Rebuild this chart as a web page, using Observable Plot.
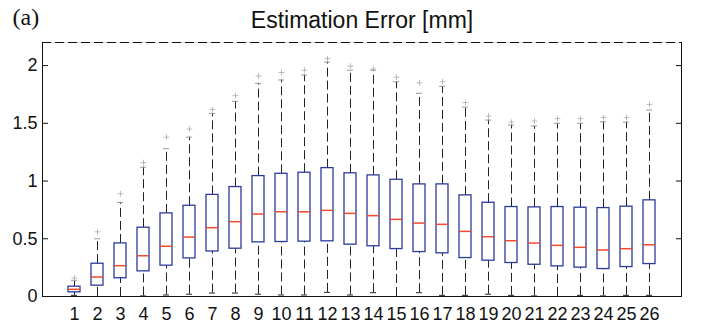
<!DOCTYPE html>
<html><head><meta charset="utf-8">
<script src="https://cdn.jsdelivr.net/npm/d3@7"></script>
<script src="https://cdn.jsdelivr.net/npm/@observablehq/plot@0.6"></script>
<style>body{margin:0;background:#fff} svg{font-family:"Liberation Sans",Arial,Helvetica,sans-serif}</style>
</head><body><div id="chart"></div>
<script>
const groups = ["1","2","3","4","5","6","7","8","9","10","11","12","13","14","15","16","17","18","19","20","21","22","23","24","25","26"];
const whiskerLow  = [0.01,0,0,0.005,0.013,0.02,0.03,0.03,0.02,0.013,0.013,0.036,0.013,0.033,0,0.033,0.01,0.01,0.02,0.01,0.005,0,0.01,0.005,0.01,0.01];
const q1          = [0.036,0.094,0.158,0.218,0.267,0.33,0.39,0.414,0.469,0.472,0.475,0.478,0.449,0.435,0.411,0.385,0.374,0.333,0.31,0.29,0.275,0.261,0.25,0.238,0.255,0.281];
const median      = [0.062,0.169,0.267,0.353,0.435,0.515,0.596,0.648,0.714,0.734,0.734,0.746,0.72,0.70,0.668,0.636,0.625,0.564,0.518,0.483,0.463,0.443,0.426,0.403,0.414,0.448];
const q3          = [0.085,0.284,0.46,0.596,0.72,0.786,0.88,0.948,1.043,1.063,1.072,1.112,1.067,1.049,1.011,0.971,0.971,0.876,0.812,0.775,0.772,0.775,0.769,0.766,0.778,0.833];
const whiskerHigh = [0.14,0.50,0.815,1.12,1.28,1.38,1.586,1.69,1.846,1.875,1.918,2.03,1.96,1.96,1.86,1.76,1.82,1.64,1.528,1.485,1.476,1.5,1.5,1.513,1.51,1.615];
const outlier     = [0.16,0.56,0.89,1.16,1.38,1.45,1.62,1.74,1.91,1.94,1.96,2.06,1.995,1.97,1.90,1.85,1.86,1.68,1.563,1.51,1.52,1.54,1.54,1.55,1.55,1.664];
const yTicks = [0, 0.5, 1, 1.5, 2];
const yMax = 2.2;
const titleText = "Estimation Error [mm]";
const panelText = "(a)";

const data = groups.map((g, i) => ({g, lo: whiskerLow[i], q1: q1[i], med: median[i], q3: q3[i], hi: whiskerHigh[i], out: outlier[i]}));

const chart = Plot.plot({
  width: 702, height: 329,
  marginTop: 42, marginBottom: 33, marginLeft: 42, marginRight: 21,
  style: {fontFamily: '"Liberation Sans", Arial, Helvetica, sans-serif', fontSize: "18px", color: "#111", background: "#fff", overflow: "visible"},
  x: {type: "band", domain: groups, paddingInner: 0.5, paddingOuter: 0.75, axis: null, label: null},
  y: {domain: [0, yMax], axis: null, label: null},
  marks: [
    Plot.ruleX(data, {x: "g", y1: "lo", y2: "q1", stroke: "#222", strokeWidth: 1, strokeDasharray: "9,4"}),
    Plot.ruleX(data, {x: "g", y1: "q3", y2: "hi", stroke: "#222", strokeWidth: 1, strokeDasharray: "9,4"}),
    Plot.tickY(data, {x: "g", y: "lo", inset: 3, stroke: "#222", strokeWidth: 1}),
    Plot.tickY(data, {x: "g", y: "hi", inset: 3, stroke: "#999", strokeWidth: 1}),
    Plot.dot(data, {x: "g", y: "out", symbol: "plus", r: 2, stroke: "#aaa", strokeWidth: 0.8}),
    Plot.barY(data, {x: "g", y1: "q1", y2: "q3", fill: "white", stroke: "#2b3b9c", strokeWidth: 1.3}),
    Plot.tickY(data, {x: "g", y: "med", stroke: "#f04a30", strokeWidth: 1.5}),
    Plot.frame({stroke: "#111", strokeWidth: 1}),
    Plot.ruleY([yMax], {stroke: "#dcdcdc", strokeWidth: 1.2, strokeDasharray: "4,9", strokeDashoffset: -9}),
    Plot.axisX({tickSize: 0, tickPadding: 10.5, fontSize: 18, label: null}),
    Plot.axisY(yTicks, {anchor: "left", tickSize: 0, tickPadding: 5, fontSize: 18, label: null, tickFormat: d => String(d)}),
    Plot.axisY(yTicks, {anchor: "left", tickSize: -6, label: null, tickFormat: () => ""}),
    Plot.axisY(yTicks, {anchor: "right", tickSize: -6, label: null, tickFormat: () => ""}),
    Plot.text([titleText], {frameAnchor: "top", dy: -15, lineAnchor: "bottom", fontSize: 23, fill: "#111"}),
    Plot.text([panelText], {frameAnchor: "top-left", dx: -30, dy: -18, lineAnchor: "bottom", textAnchor: "start", fontSize: 24, fontFamily: '"Liberation Serif", "Times New Roman", serif', fill: "#111"})
  ]
});
document.getElementById("chart").appendChild(chart);
</script>
</body></html>
